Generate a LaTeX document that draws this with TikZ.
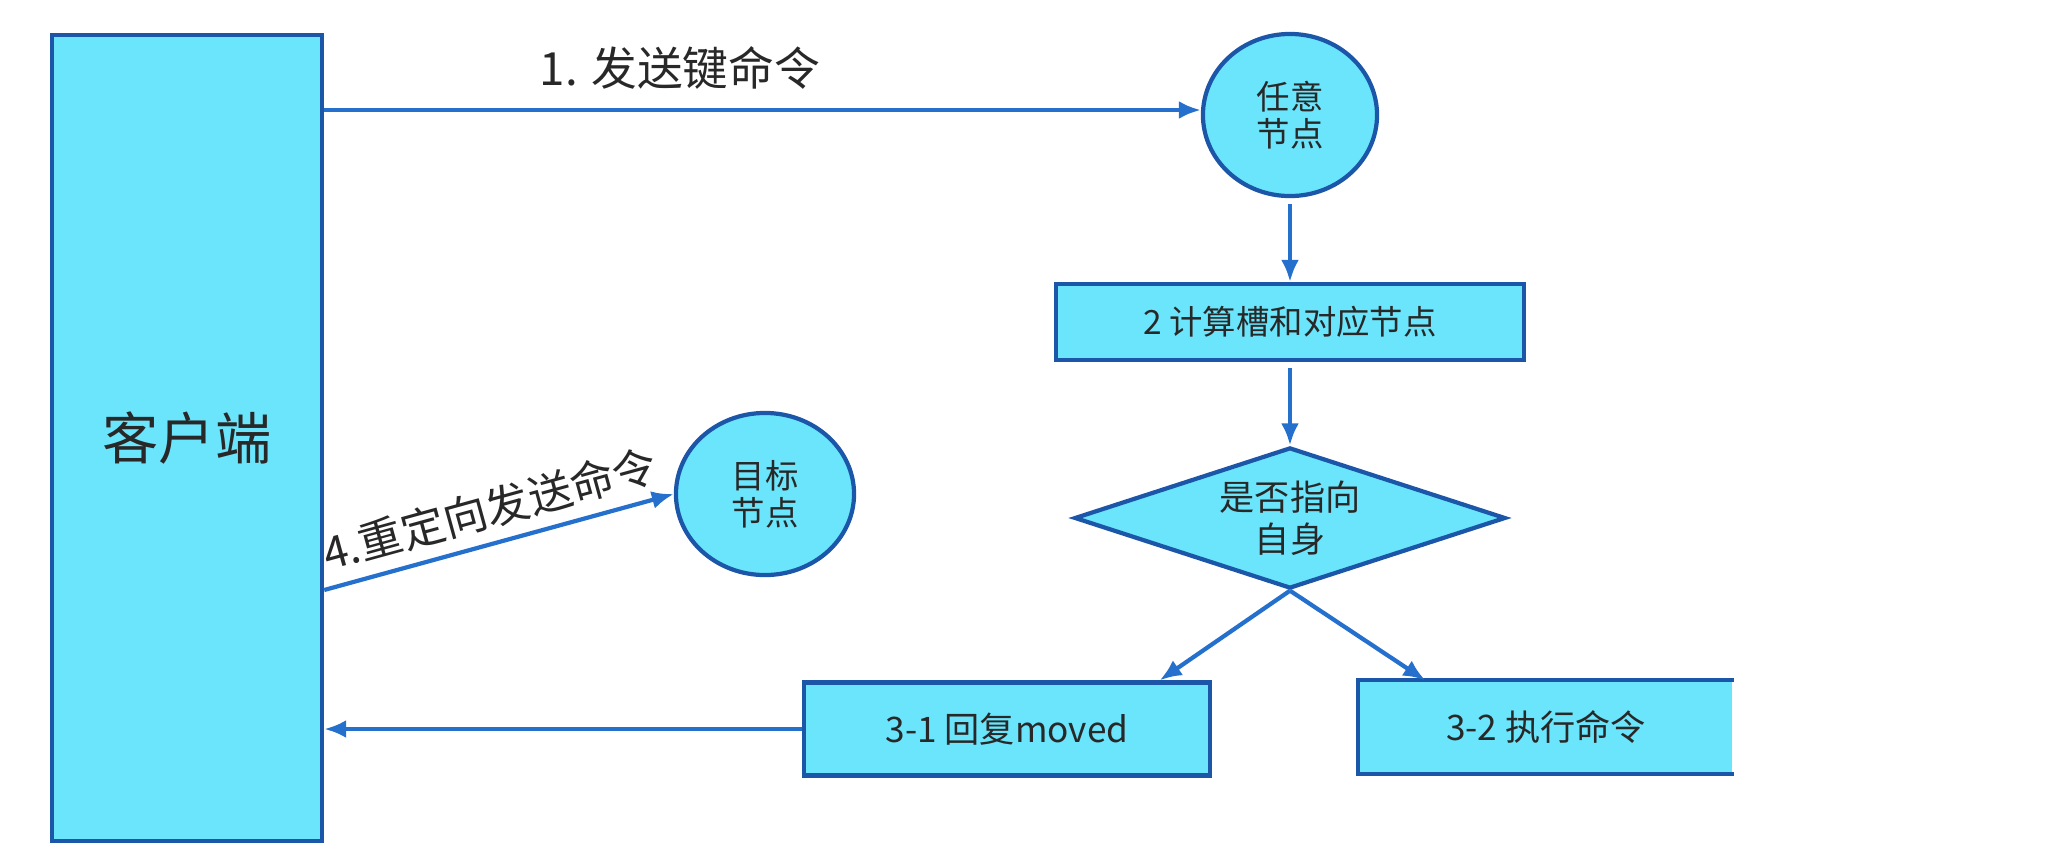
\documentclass[tikz,border=0pt]{standalone}
\usepackage{fontspec}
\setmainfont{Noto Sans CJK SC}
\usepackage{xcolor}
\usepackage{tikz}
\usetikzlibrary{arrows.meta, positioning}
\usetikzlibrary{shapes.geometric}

\definecolor{boxfill}{RGB}{106,229,251}
\definecolor{boxline}{RGB}{28,86,168}
\definecolor{arrowblue}{RGB}{36,112,204}
\definecolor{txtgray}{RGB}{40,40,40}

\begin{document}
\begin{tikzpicture}[x=0.01cm, y=-0.01cm,
  box/.style={rectangle, draw=boxline, fill=boxfill, line width=1.2pt, text=txtgray, inner sep=0pt, align=center},
  ball/.style={ellipse, draw=boxline, fill=boxfill, line width=1.2pt, text=txtgray, inner sep=0pt,
    minimum width=1.74cm, minimum height=1.62cm, align=center, font=\fontsize{9.5}{10.5}\selectfont},
  arr/.style={-{Latex[length=2.2mm,width=1.8mm]}, draw=arrowblue, line width=1.2pt},
  lbl/.style={text=txtgray}]
\useasboundingbox (0,0) rectangle (2050,866);

\node[box, minimum width=2.70cm, minimum height=8.06cm, font=\fontsize{16}{18}\selectfont] (client) at (187,438) {客户端};
\node[ball] (any) at (1290,115) {任意\\节点};
\node[ball, minimum width=1.78cm] (target) at (765,494) {目标\\节点};
\node[box, minimum width=4.68cm, minimum height=0.76cm, font=\fontsize{9.5}{11}\selectfont] (calc) at (1290,322) {2 计算槽和对应节点};
\node[diamond, aspect=3.05, draw=boxline, fill=boxfill, line width=1.2pt, text=txtgray, inner sep=0pt, align=center,
  minimum width=4.31cm, minimum height=1.41cm, font=\fontsize{10}{12}\selectfont] (self) at (1290,518) {是否指向\\自身};
\node[box, minimum width=4.05cm, minimum height=0.93cm, font=\fontsize{10}{12}\selectfont] (moved) at (1007,729) {3-1 回复moved};
\node[box, draw=none, minimum width=3.71cm, minimum height=0.89cm, font=\fontsize{10}{12}\selectfont] (exec) at (1546,727) {3-2 执行命令};
\draw[boxline, line width=1.2pt] (exec.north east) -- (exec.north west) -- (exec.south west) -- (exec.south east);

\node[lbl, font=\fontsize{13}{15}\selectfont] (send) at (680,68) {1. 发送键命令};
\coordinate (out1) at (client.east |- 0,110);
\coordinate (out4) at (client.east |- 0,590);

\draw[arr] (out1) -- (any.west |- out1);
\draw[arr, shorten <=0.06cm] (any.south) -- (calc.north);
\draw[arr, shorten <=0.06cm] (calc.south) -- (self.north);
\draw[arr] (self.south) -- ([xshift=-0.52cm]moved.north east);
\draw[arr] (self.south) -- ([xshift=0.67cm]exec.north west);
\draw[arr] (moved.west) -- (client.east |- moved.west);
\draw[arr] (out4) -- node[lbl, sloped, above, font=\fontsize{12.5}{14}\selectfont] {4.重定向发送命令} (target.west);
\end{tikzpicture}
\end{document}
